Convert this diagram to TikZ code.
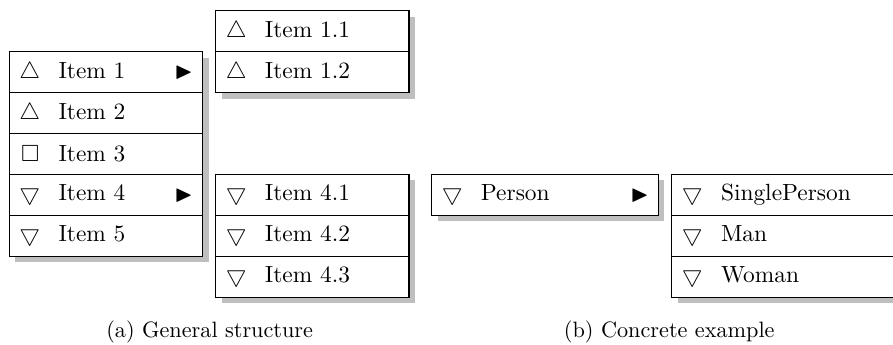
\documentclass[tikz,border=0pt]{standalone}
\usepackage{amssymb}
\usepackage{tikz}
\usetikzlibrary{positioning, shadows}
\tikzset{menuitem/.style = {draw, rectangle, fill=white, line width=0.5pt, inner xsep=0pt, inner ysep=0pt, outer sep=0pt, minimum height=17.5pt, text width=#1, align=left, drop shadow={shadow xshift=2.5pt, shadow yshift=-2.5pt, fill=black!25, opacity=1}}}
\tikzset{menuitem/.default = 82.6pt}
\tikzset{submark/.style = {anchor=east, inner sep=0pt, xshift=-4pt}}
\tikzset{caption/.style = {font=\fontsize{9.5}{11}\selectfont}}
\newcommand{\iconup}{\makebox[21pt][l]{\hspace{4.3pt}$\bigtriangleup$}}
\newcommand{\icondown}{\makebox[21pt][l]{\hspace{4.3pt}$\bigtriangledown$}}
\newcommand{\iconsquare}{\makebox[21pt][l]{\hspace{5pt}$\square$}}

\begin{document}
\begin{tikzpicture}[node distance=0pt]
  \useasboundingbox (0,0) rectangle (381.6pt,-147.4pt);

  % main menu
  \node [menuitem, anchor=north west] (item1) at (4pt,-22.1pt) {\iconup Item 1};
  \node [menuitem, below=of item1] (item2) {\iconup Item 2};
  \node [menuitem, below=of item2] (item3) {\iconsquare Item 3};
  \node [menuitem, below=of item3] (item4) {\icondown Item 4};
  \node [menuitem, below=of item4] (item5) {\icondown Item 5};
  \node [submark] at (item1.east) {$\blacktriangleright$};
  \node [submark] at (item4.east) {$\blacktriangleright$};

  % submenus (top row first, so each shadow goes under the next row)
  \node [menuitem, right=5.6pt of item1, yshift=17.5pt] (item11) {\iconup Item 1.1};
  \node [menuitem, below=of item11] (item12) {\iconup Item 1.2};
  \node [menuitem, right=5.6pt of item4] (item41) {\icondown Item 4.1};
  \node [menuitem, below=of item41] (item42) {\icondown Item 4.2};
  \node [menuitem, below=of item42] (item43) {\icondown Item 4.3};

  % example
  \node [menuitem=96.9pt, right=9.7pt of item41] (person) {\icondown Person};
  \node [submark] at (person.east) {$\blacktriangleright$};
  \node [menuitem=100pt, right=5.7pt of person] (single) {\icondown SinglePerson};
  \node [menuitem=100pt, below=of single] (man) {\icondown Man};
  \node [menuitem=100pt, below=of man] (woman) {\icondown Woman};

  \node [caption] (capa) at (89.6pt,-142pt) {(a) General structure};
  \node [caption] (capb) at (286pt,-142pt) {(b) Concrete example};
\end{tikzpicture}
\end{document}
